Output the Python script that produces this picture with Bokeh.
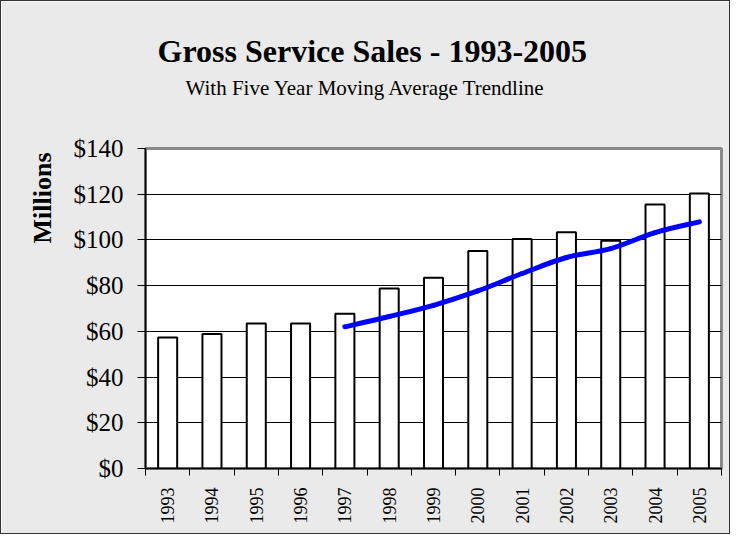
import math
from bokeh.plotting import figure
from bokeh.models import Range1d, FixedTicker, Title, ColumnDataSource
from bokeh.embed import file_html
from bokeh.resources import INLINE

# ---- data ----
years = ["1993", "1994", "1995", "1996", "1997", "1998", "1999",
         "2000", "2001", "2002", "2003", "2004", "2005"]
sales = [57.3, 58.8, 63.4, 63.4, 67.7, 78.7, 83.4,
         95.2, 100.4, 103.4, 99.6, 115.5, 120.3]
ma_years = ["1997", "1998", "1999", "2000", "2001", "2002", "2003", "2004", "2005"]
ma_values = [62.0, 66.5, 71.4, 77.7, 85.3, 92.3, 96.2, 103.2, 107.9]
y_ticks = [0, 20, 40, 60, 80, 100, 120, 140]
y_tick_labels = ["$0", "$20", "$40", "$60", "$80", "$100", "$120", "$140"]
title_text = "Gross Service Sales - 1993-2005"
subtitle_text = "With Five Year Moving Average Trendline"
y_label = "Millions"

SERIF = "Liberation Serif"

# category centre positions on a numeric axis
xc = [i + 0.5 for i in range(len(years))]
pos = {y: i + 0.5 for i, y in enumerate(years)}
ma_x = [pos[y] for y in ma_years]

p = figure(width=730, height=534, output_backend="svg", toolbar_location=None,
           x_range=Range1d(0, len(years)), y_range=Range1d(0, 140),
           min_border_left=144, min_border_right=10,
           min_border_top=147, min_border_bottom=67)
p.styles = {"border": "1px solid #333333"}
p.background_fill_color = "white"
p.border_fill_color = "#eaeaea"
p.outline_line_color = "#8a8a8a"
p.outline_line_width = 3

# bars
src = ColumnDataSource(dict(x=xc, top=sales))
p.vbar(x="x", top="top", width=0.43, bottom=0, source=src,
       fill_color="white", line_color="black", line_width=2)

# smoothed moving-average line (Catmull-Rom style bezier through the points)
n = len(ma_x)
bx0, by0, bx1, by1, cx0, cy0, cx1, cy1 = [], [], [], [], [], [], [], []
for i in range(n - 1):
    p0 = (ma_x[max(i - 1, 0)], ma_values[max(i - 1, 0)])
    p1 = (ma_x[i], ma_values[i])
    p2 = (ma_x[i + 1], ma_values[i + 1])
    p3 = (ma_x[min(i + 2, n - 1)], ma_values[min(i + 2, n - 1)])
    bx0.append(p1[0]); by0.append(p1[1])
    bx1.append(p2[0]); by1.append(p2[1])
    cx0.append(p1[0] + (p2[0] - p0[0]) / 6.0); cy0.append(p1[1] + (p2[1] - p0[1]) / 6.0)
    cx1.append(p2[0] - (p3[0] - p1[0]) / 6.0); cy1.append(p2[1] - (p3[1] - p1[1]) / 6.0)
p.bezier(x0=bx0, y0=by0, x1=bx1, y1=by1, cx0=cx0, cy0=cy0, cx1=cx1, cy1=cy1,
         line_color="#0000ff", line_width=5, line_cap="round")

# y axis
p.yaxis.ticker = FixedTicker(ticks=y_ticks)
p.yaxis.major_label_overrides = {t: l for t, l in zip(y_ticks, y_tick_labels)}
p.yaxis.major_label_text_font = SERIF
p.yaxis.major_label_text_font_size = "25px"
p.yaxis.major_label_text_color = "black"
p.yaxis.major_tick_out = 8
p.yaxis.major_tick_in = 0
p.yaxis.major_label_standoff = 14
p.yaxis.minor_tick_line_color = None
p.yaxis.axis_line_color = "black"
p.yaxis.axis_line_width = 1.5
p.yaxis.major_tick_line_color = "black"

# x axis: labels at category centres, tick marks between categories
p.xaxis.ticker = FixedTicker(ticks=xc, minor_ticks=list(range(len(years) + 1)))
p.xaxis.major_label_overrides = {c: y for c, y in zip(xc, years)}
p.xaxis.major_label_orientation = math.pi / 2
p.xaxis.major_label_text_font = SERIF
p.xaxis.major_label_text_font_size = "18px"
p.xaxis.major_label_text_color = "black"
p.xaxis.major_tick_line_color = None
p.xaxis.major_tick_out = 0
p.xaxis.major_tick_in = 0
p.xaxis.minor_tick_out = 7
p.xaxis.minor_tick_in = 0
p.xaxis.minor_tick_line_color = "black"
p.xaxis.major_label_standoff = 12
p.xaxis.axis_line_color = "black"
p.xaxis.axis_line_width = 1.5

# grid
p.xgrid.grid_line_color = None
p.ygrid.ticker = FixedTicker(ticks=y_ticks)
p.ygrid.grid_line_color = "black"
p.ygrid.grid_line_width = 1

# titles (spacer first so the titles sit higher above the plot area)
p.add_layout(Title(text=" ", text_font_size="10px", standoff=36), "above")
p.add_layout(Title(text=subtitle_text, text_font=SERIF, text_font_style="normal",
                   text_font_size="21px", align="left", offset=40, text_color="black",
                   standoff=0), "above")
p.add_layout(Title(text=title_text, text_font=SERIF, text_font_style="bold",
                   text_font_size="32px", align="left", offset=12, text_color="black",
                   standoff=10), "above")
p.add_layout(Title(text=y_label, text_font=SERIF, text_font_style="bold",
                   text_font_size="26px", align="right", offset=4, text_color="black",
                   standoff=28), "left")

open("out.html", "w").write(file_html(p, INLINE))
